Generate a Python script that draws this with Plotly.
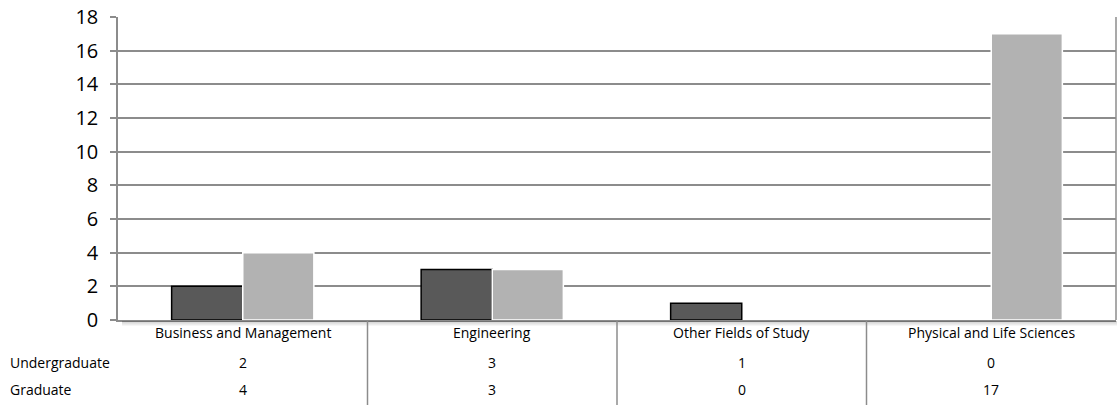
import plotly.graph_objects as go

categories = ["Business and Management", "Engineering", "Other Fields of Study", "Physical and Life Sciences"]
series_names = ["Undergraduate", "Graduate"]
undergraduate = [2, 3, 1, 0]
graduate = [4, 3, 0, 17]
y_ticks = [0, 2, 4, 6, 8, 10, 12, 14, 16, 18]

FONT = "Open Sans"
GRID = "#8c8c8c"
PLOT_H = 405 - 17 - 85  # plot area height in px
PLOT_W = 1118 - 118 - 2

fig = go.Figure()
fig.add_trace(go.Bar(x=categories, y=undergraduate, name=series_names[0],
                     marker=dict(color="#595959",
                                 line=dict(color="#000000", width=[1.5 if v else 0 for v in undergraduate]))))
fig.add_trace(go.Bar(x=categories, y=graduate, name=series_names[1],
                     marker=dict(color="#b2b2b2",
                                 line=dict(color="#ffffff", width=[1.5 if v else 0 for v in graduate]))))

fig.update_layout(
    width=1118, height=405,
    margin=dict(l=118, r=2, t=17, b=85),
    paper_bgcolor="white", plot_bgcolor="white",
    barmode="group", bargap=0.43, bargroupgap=0,
    showlegend=False,
    font=dict(family=FONT, color="#000000"),
)
fig.update_xaxes(range=[-0.5, 3.5], showticklabels=False, showgrid=False,
                 showline=True, linecolor=GRID, linewidth=1.5, ticks="")
fig.update_yaxes(range=[0, 18], tickvals=y_ticks, showgrid=True, gridcolor=GRID, gridwidth=1.5,
                 showline=True, linecolor=GRID, linewidth=1.5, ticks="outside", ticklen=6,
                 tickcolor=GRID, tickwidth=1.5, tickfont=dict(size=20, family=FONT),
                 ticklabelstandoff=8, zeroline=False)

# right border of plot area
fig.add_shape(type="line", xref="paper", yref="paper", x0=1, x1=1, y0=0, y1=1,
              line=dict(color=GRID, width=1.5))

# soft shadow below the plot area
for k in range(1, 6):
    fig.add_shape(type="line", xref="paper", yref="paper", x0=4 / PLOT_W, x1=1 + 1 / PLOT_W,
                  y0=-(k + 0.5) / PLOT_H, y1=-(k + 0.5) / PLOT_H,
                  line=dict(color=f"rgba(0,0,0,{0.22 * (1 - k / 6):.3f})", width=1))

# data table
row_y = [-0.1419, -0.2310]
for i, cat in enumerate(categories):
    fig.add_annotation(x=i, y=-0.0429, xref="x", yref="paper", text=cat, showarrow=False,
                       font=dict(size=14, family=FONT), yanchor="middle", xanchor="center")
    for r, vals in enumerate([undergraduate, graduate]):
        fig.add_annotation(x=i, y=row_y[r], xref="x", yref="paper", text=str(vals[i]),
                           showarrow=False, font=dict(size=14, family=FONT),
                           yanchor="middle", xanchor="center")
for r, name in enumerate(series_names):
    fig.add_annotation(x=-0.1102, y=row_y[r], xref="paper", yref="paper", text=name,
                       showarrow=False, font=dict(size=14, family=FONT),
                       yanchor="middle", xanchor="left")
for b in [0.5, 1.5, 2.5]:
    fig.add_shape(type="line", xref="x", yref="paper", x0=b, x1=b, y0=0, y1=-0.2805,
                  line=dict(color=GRID, width=1.5))

fig.write_html("out.html", config={"displayModeBar": False},
               post_script="document.body.style.margin='0';document.body.style.overflow='hidden';")
